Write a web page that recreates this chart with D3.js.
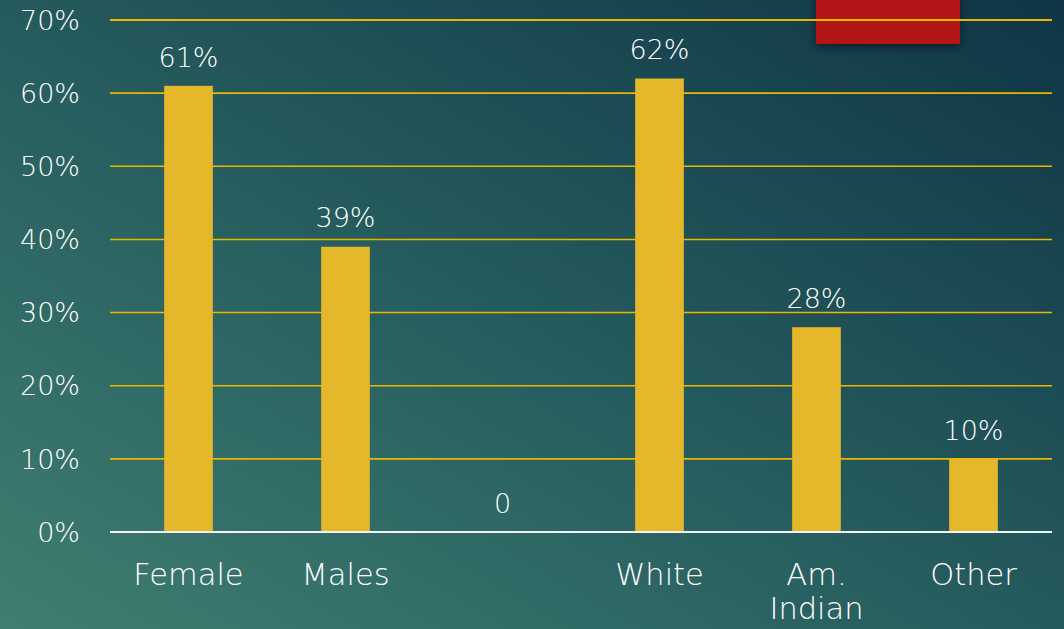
<!DOCTYPE html>
<style>
  body { margin: 0; overflow: hidden; }
  svg text { font-family: "DejaVu Sans", Lato, sans-serif; font-weight: 200; fill: #ffffff; }
</style>
<body>
<svg id="chart" width="1064" height="629"></svg>
</body>
<script src="https://cdnjs.cloudflare.com/ajax/libs/d3/7.8.5/d3.min.js"></script>
<script>
  const categories = ['Female', 'Males', '', 'White', 'Am.|Indian', 'Other']
  const values = [61, 39, 0, 62, 28, 10]
  const valueLabels = ['61%', '39%', '0', '62%', '28%', '10%']
  const yTicks = [0, 10, 20, 30, 40, 50, 60, 70]

  const [ width, height ] = [ 1064, 629 ]
  const margin = { top: 20, right: 12, bottom: 97, left: 110 }

  const svg = d3.select('#chart')

  // slide background
  const defs = svg.append('defs')
  const grad = defs.append('linearGradient')
      .attr('id', 'bg')
      .attr('x1', '0%').attr('y1', '100%')
      .attr('x2', '100%').attr('y2', '0%')
  grad.append('stop').attr('offset', '0%').attr('stop-color', '#3f7e71')
  grad.append('stop').attr('offset', '45%').attr('stop-color', '#275e5f')
  grad.append('stop').attr('offset', '100%').attr('stop-color', '#0f3545')

  const shadow = defs.append('filter').attr('id', 'shadow')
      .attr('x', '-20%').attr('y', '-20%').attr('width', '140%').attr('height', '160%')
  shadow.append('feDropShadow')
      .attr('dx', 0).attr('dy', 3).attr('stdDeviation', 4)
      .attr('flood-color', '#000').attr('flood-opacity', 0.5)

  svg.append('rect')
      .attr('width', width).attr('height', height)
      .attr('fill', 'url(#bg)')

  // red accent block at the top
  svg.append('rect')
      .attr('x', 816).attr('y', -10)
      .attr('width', 144).attr('height', 54)
      .attr('fill', '#b31814')
      .attr('filter', 'url(#shadow)')

  const x = d3.scaleBand()
    .domain(d3.range(categories.length))
    .range([margin.left, width - margin.right])
    .paddingInner(0.69)
    .paddingOuter(0.345)

  const y = d3.scaleLinear()
    .domain([0, 70])
    .range([height - margin.bottom, margin.top])

  // gridlines
  svg.append('g')
    .selectAll('line')
    .data(yTicks.filter(d => d > 0))
    .enter().append('line')
      .attr('x1', margin.left)
      .attr('x2', width - margin.right)
      .attr('y1', d => y(d))
      .attr('y2', d => y(d))
      .attr('stroke', '#e9b600')
      .attr('stroke-width', d => d === 70 ? 2.2 : 1.6)

  // y tick labels
  svg.append('g')
    .selectAll('text')
    .data(yTicks)
    .enter().append('text')
      .attr('x', 80)
      .attr('y', d => y(d))
      .attr('dy', '.36em')
      .attr('text-anchor', 'end')
      .attr('font-size', 27)
      .text(d => `${d}%`)

  // bars
  svg.append('g')
    .selectAll('rect')
    .data(values)
    .enter().append('rect')
      .attr('x', (d, i) => x(i))
      .attr('y', d => y(d))
      .attr('width', x.bandwidth())
      .attr('height', d => y(0) - y(d))
      .attr('fill', '#e5b72a')

  // baseline
  svg.append('line')
      .attr('x1', margin.left)
      .attr('x2', width - margin.right)
      .attr('y1', y(0))
      .attr('y2', y(0))
      .attr('stroke', '#f2f2f2')
      .attr('stroke-width', 2)

  // value labels
  svg.append('g')
    .selectAll('text')
    .data(values)
    .enter().append('text')
      .attr('x', (d, i) => x(i) + x.bandwidth() / 2)
      .attr('y', d => y(d) - 29)
      .attr('dy', '.36em')
      .attr('text-anchor', 'middle')
      .attr('font-size', 27)
      .text((d, i) => valueLabels[i])

  // category labels
  const cat = svg.append('g')
    .selectAll('text')
    .data(categories)
    .enter().append('text')
      .attr('x', (d, i) => x(i) + x.bandwidth() / 2)
      .attr('y', y(0) + 42)
      .attr('text-anchor', 'middle')
      .attr('font-size', 30.5)

  cat.selectAll('tspan')
    .data(d => d.split('|'))
    .enter().append('tspan')
      .attr('x', function () { return d3.select(this.parentNode).attr('x') })
      .attr('dy', (d, i) => i === 0 ? '.36em' : 34)
      .text(d => d)
</script>
